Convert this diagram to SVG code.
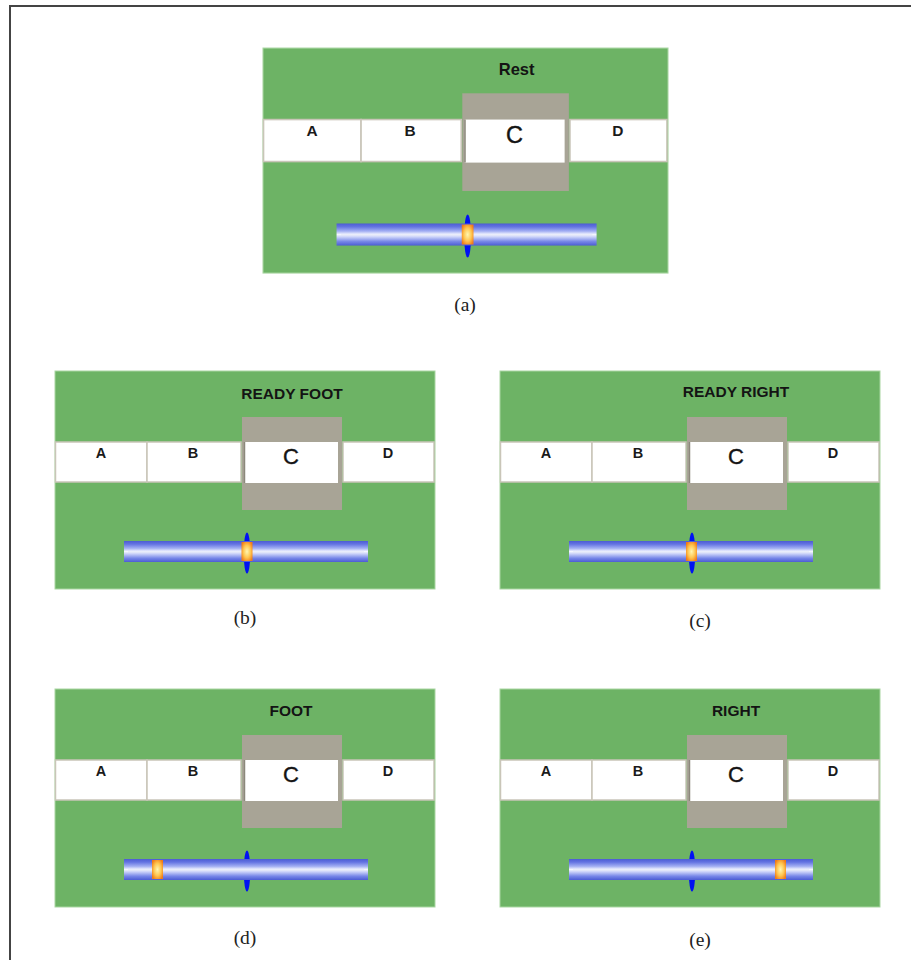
<svg xmlns="http://www.w3.org/2000/svg" xmlns:xlink="http://www.w3.org/1999/xlink" width="911" height="960" viewBox="0 0 911 960">
  <style>
    .bg { fill: #6db365; stroke: #a9d6a2; stroke-width: 1; }
    .cell { fill: #ffffff; stroke: #c9c5b8; stroke-width: 1.5; }
    .hold { fill: #a8a496; }
    .title { font-family: "Liberation Sans", Arial, sans-serif; font-weight: bold; font-size: 15.5px; fill: #141414; text-anchor: middle; }
    .key { font-family: "Liberation Sans", Arial, sans-serif; font-weight: bold; font-size: 14.5px; fill: #1a1a1a; text-anchor: middle; }
    .keyc { font-family: "Liberation Sans", Arial, sans-serif; font-size: 22px; fill: #141414; text-anchor: middle; stroke: #141414; stroke-width: 0.4; }
    .cap { font-family: "Liberation Serif", "Times New Roman", serif; font-size: 19.5px; fill: #222; text-anchor: middle; }
    .frame { stroke: #444; stroke-width: 2; fill: none; }
  </style>
  <defs>
    <linearGradient id="barGrad" x1="0" y1="0" x2="0" y2="1">
      <stop offset="0" stop-color="#4c5cd4"/>
      <stop offset="0.15" stop-color="#6474e2"/>
      <stop offset="0.35" stop-color="#a4b0f3"/>
      <stop offset="0.5" stop-color="#f4f6ff"/>
      <stop offset="0.62" stop-color="#c6cef8"/>
      <stop offset="0.82" stop-color="#7686e8"/>
      <stop offset="1" stop-color="#4c5cd4"/>
    </linearGradient>
    <radialGradient id="thumbGrad" cx="0.5" cy="0.5" r="0.6">
      <stop offset="0" stop-color="#fff6b0"/>
      <stop offset="0.55" stop-color="#ffc650"/>
      <stop offset="1" stop-color="#f07c18"/>
    </radialGradient>
    <!-- shared board: key row, held key C, slider track with centre mark -->
    <g id="board">
      <rect class="hold" x="187" y="46" width="100" height="93"/>
      <rect class="cell" x="0.5" y="71" width="91.5" height="40"/>
      <rect class="cell" x="92" y="71" width="94" height="40"/>
      <rect x="189" y="71" width="94" height="41" fill="#ffffff"/>
      <line x1="189.5" y1="71" x2="189.5" y2="112" stroke="#8c887c" stroke-width="1.5"/>
      <rect class="cell" x="288" y="71" width="91" height="40"/>
      <text class="key" x="46" y="87">A</text>
      <text class="key" x="138" y="87">B</text>
      <text class="keyc" x="236" y="93">C</text>
      <text class="key" x="333" y="87">D</text>
      <ellipse cx="192" cy="182" rx="3.3" ry="20.5" fill="#0012f2"/>
      <rect x="69" y="170" width="244" height="21" fill="url(#barGrad)"/>
      <line x1="73" y1="181" x2="309" y2="181" stroke="#dfe4f6" stroke-width="1"/>
    </g>
    <rect id="thumb" x="0" y="171" width="11" height="19" fill="url(#thumbGrad)"/>
  </defs>

  <!-- page frame -->
  <g id="frame">
    <line class="frame" x1="9" y1="6" x2="911" y2="6"/>
    <line class="frame" x1="10" y1="5" x2="10" y2="960"/>
  </g>

  <!-- (a) rest -->
  <g id="panel-a" transform="translate(263,45) scale(1.0658,1.05)">
    <rect class="bg" x="0" y="2.9" width="380" height="214.3"/>
    <text class="title" x="238" y="29" font-size="17.5">Rest</text>
    <use xlink:href="#board"/>
    <use xlink:href="#thumb" x="186.5"/>
  </g>
  <text id="cap-a" class="cap" x="465" y="311">(a)</text>

  <!-- (b) ready foot -->
  <g id="panel-b" transform="translate(55,371)">
    <rect class="bg" x="0" y="0" width="380" height="218"/>
    <text class="title" x="237" y="28">READY FOOT</text>
    <use xlink:href="#board"/>
    <use xlink:href="#thumb" x="186.5"/>
  </g>
  <text id="cap-b" class="cap" x="245" y="624">(b)</text>

  <!-- (c) ready right -->
  <g id="panel-c" transform="translate(500,371)">
    <rect class="bg" x="0" y="0" width="380" height="218"/>
    <text class="title" x="236" y="26">READY RIGHT</text>
    <use xlink:href="#board"/>
    <use xlink:href="#thumb" x="186"/>
  </g>
  <text id="cap-c" class="cap" x="700" y="627">(c)</text>

  <!-- (d) foot -->
  <g id="panel-d" transform="translate(55,689)">
    <rect class="bg" x="0" y="0" width="380" height="218"/>
    <text class="title" x="236" y="27">FOOT</text>
    <use xlink:href="#board"/>
    <use xlink:href="#thumb" x="97"/>
  </g>
  <text id="cap-d" class="cap" x="245" y="944">(d)</text>

  <!-- (e) right -->
  <g id="panel-e" transform="translate(500,689)">
    <rect class="bg" x="0" y="0" width="380" height="218"/>
    <text class="title" x="236" y="27">RIGHT</text>
    <use xlink:href="#board"/>
    <use xlink:href="#thumb" x="275"/>
  </g>
  <text id="cap-e" class="cap" x="700" y="946">(e)</text>
</svg>
